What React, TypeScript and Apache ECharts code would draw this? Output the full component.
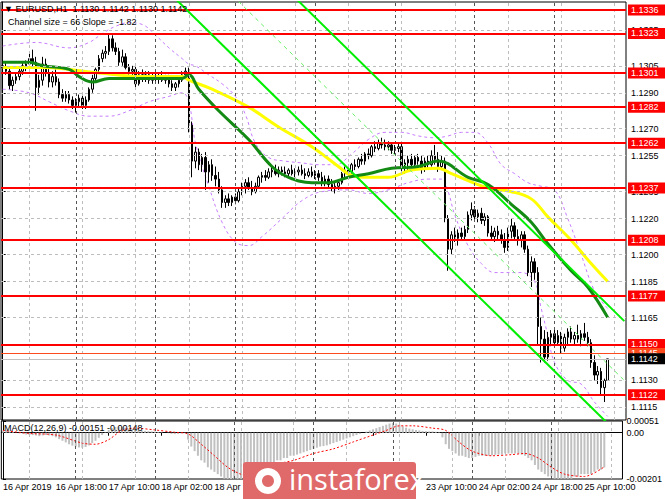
import React, { useEffect, useRef } from 'react';
import * as echarts from 'echarts';

// ---- Candles (EURUSD H1), bar index 0 = 16 Apr 2019 02:00 ----
const opens = [
1.1305,1.1304,1.1302,1.1294,1.1297,1.1299,1.1302,1.1305,1.1306,1.1309,
1.1307,1.1293,1.1297,1.1306,1.1301,1.1296,1.1299,1.1296,1.1289,1.1287,
1.1289,1.1286,1.1283,1.1285,1.1287,1.1283,1.1286,1.1292,1.1298,1.1303,
1.1309,1.1312,1.1313,1.1320,1.1315,1.1313,1.1307,1.1310,1.1304,1.1302,
1.1303,1.1295,1.1300,1.1298,1.1300,1.1297,1.1299,1.1298,1.1299,1.1297,
1.1298,1.1295,1.1293,1.1295,1.1297,1.1300,1.1302,1.1272,1.1252,1.1257,
1.1250,1.1254,1.1246,1.1250,1.1244,1.1242,1.1236,1.1229,1.1231,1.1229,
1.1232,1.1230,1.1235,1.1238,1.1240,1.1237,1.1235,1.1238,1.1243,1.1244,
1.1243,1.1246,1.1247,1.1245,1.1247,1.1246,1.1245,1.1247,1.1245,1.1246,
1.1247,1.1245,1.1244,1.1246,1.1244,1.1245,1.1243,1.1240,1.1242,1.1239,
1.1237,1.1238,1.1240,1.1245,1.1247,1.1246,1.1250,1.1249,1.1253,1.1252,
1.1256,1.1255,1.1260,1.1259,1.1262,1.1261,1.1260,1.1261,1.1258,1.1259,
1.1260,1.1249,1.1251,1.1253,1.1250,1.1254,1.1252,1.1248,1.1252,1.1250,
1.1255,1.1253,1.1249,1.1252,1.1220,1.1203,1.1211,1.1209,1.1212,1.1210,
1.1214,1.1222,1.1225,1.1221,1.1223,1.1219,1.1221,1.1212,1.1210,1.1213,
1.1211,1.1208,1.1204,1.1213,1.1216,1.1210,1.1208,1.1211,1.1203,1.1190,
1.1196,1.1190,1.1160,1.1153,1.1143,1.1154,1.1156,1.1151,1.1155,1.1148,
1.1154,1.1157,1.1153,1.1155,1.1153,1.1156,1.1154,1.1151,1.1140,1.1133,
1.1135,1.1126,1.1130];
const highs = [
1.1308,1.1307,1.1304,1.1299,1.1301,1.1304,1.1307,1.1308,1.1312,1.1314,
1.1310,1.1300,1.1310,1.1309,1.1305,1.1302,1.1303,1.1298,1.1292,1.1291,
1.1291,1.1288,1.1287,1.1289,1.1290,1.1288,1.1293,1.1300,1.1304,1.1311,
1.1314,1.1316,1.1323,1.1322,1.1318,1.1315,1.1314,1.1312,1.1306,1.1305,
1.1305,1.1302,1.1303,1.1302,1.1302,1.1301,1.1302,1.1301,1.1302,1.1300,
1.1300,1.1297,1.1296,1.1298,1.1302,1.1304,1.1304,1.1274,1.1260,1.1259,
1.1256,1.1257,1.1252,1.1253,1.1249,1.1246,1.1238,1.1233,1.1234,1.1233,
1.1234,1.1237,1.1240,1.1242,1.1243,1.1241,1.1240,1.1244,1.1246,1.1247,
1.1248,1.1249,1.1250,1.1249,1.1249,1.1249,1.1248,1.1250,1.1248,1.1249,
1.1250,1.1248,1.1248,1.1249,1.1247,1.1247,1.1246,1.1244,1.1244,1.1242,
1.1240,1.1242,1.1246,1.1249,1.1250,1.1251,1.1253,1.1254,1.1256,1.1257,
1.1259,1.1261,1.1263,1.1264,1.1265,1.1264,1.1263,1.1262,1.1261,1.1262,
1.1262,1.1253,1.1255,1.1256,1.1255,1.1256,1.1255,1.1254,1.1255,1.1258,
1.1261,1.1257,1.1255,1.1254,1.1222,1.1213,1.1215,1.1214,1.1215,1.1216,
1.1224,1.1229,1.1227,1.1225,1.1226,1.1223,1.1222,1.1216,1.1215,1.1216,
1.1214,1.1212,1.1215,1.1220,1.1218,1.1214,1.1213,1.1213,1.1205,1.1199,
1.1198,1.1193,1.1165,1.1158,1.1157,1.1158,1.1159,1.1158,1.1157,1.1156,
1.1159,1.1160,1.1157,1.1161,1.1158,1.1162,1.1157,1.1153,1.1144,1.1138,
1.1137,1.1131,1.1142];
const lows = [
1.1302,1.1300,1.1292,1.1291,1.1295,1.1297,1.1300,1.1302,1.1303,1.1304,
1.1280,1.1289,1.1294,1.1299,1.1293,1.1293,1.1294,1.1287,1.1285,1.1285,
1.1284,1.1281,1.1279,1.1282,1.1281,1.1281,1.1285,1.1290,1.1296,1.1301,
1.1307,1.1309,1.1311,1.1313,1.1311,1.1305,1.1305,1.1303,1.1300,1.1298,
1.1292,1.1294,1.1296,1.1296,1.1295,1.1295,1.1296,1.1295,1.1296,1.1295,
1.1293,1.1291,1.1291,1.1293,1.1296,1.1298,1.1268,1.1243,1.1248,1.1247,
1.1246,1.1236,1.1240,1.1241,1.1238,1.1234,1.1226,1.1226,1.1227,1.1227,
1.1228,1.1229,1.1233,1.1234,1.1236,1.1233,1.1234,1.1237,1.1240,1.1241,
1.1242,1.1243,1.1244,1.1243,1.1244,1.1243,1.1243,1.1244,1.1243,1.1244,
1.1244,1.1242,1.1243,1.1243,1.1242,1.1241,1.1238,1.1238,1.1237,1.1235,
1.1234,1.1236,1.1239,1.1243,1.1244,1.1245,1.1247,1.1248,1.1250,1.1250,
1.1253,1.1254,1.1257,1.1258,1.1259,1.1258,1.1258,1.1256,1.1256,1.1257,
1.1246,1.1245,1.1247,1.1249,1.1248,1.1250,1.1245,1.1246,1.1248,1.1249,
1.1250,1.1246,1.1247,1.1218,1.1191,1.1200,1.1207,1.1205,1.1208,1.1208,
1.1212,1.1219,1.1219,1.1218,1.1217,1.1216,1.1210,1.1208,1.1207,1.1208,
1.1206,1.1201,1.1202,1.1209,1.1208,1.1205,1.1204,1.1201,1.1188,1.1182,
1.1186,1.1150,1.1140,1.1140,1.1141,1.1150,1.1149,1.1150,1.1145,1.1146,
1.1150,1.1151,1.1150,1.1151,1.1149,1.1152,1.1149,1.1137,1.1130,1.1128,
1.1122,1.1118,1.1130];
const closes = [
1.1304,1.1302,1.1294,1.1297,1.1299,1.1302,1.1305,1.1306,1.1309,1.1307,
1.1293,1.1297,1.1306,1.1301,1.1296,1.1299,1.1296,1.1289,1.1287,1.1289,
1.1286,1.1283,1.1285,1.1287,1.1283,1.1286,1.1292,1.1298,1.1303,1.1309,
1.1312,1.1313,1.1320,1.1315,1.1313,1.1307,1.1310,1.1304,1.1302,1.1303,
1.1295,1.1300,1.1298,1.1300,1.1297,1.1299,1.1298,1.1299,1.1297,1.1298,
1.1295,1.1293,1.1295,1.1297,1.1300,1.1302,1.1272,1.1252,1.1257,1.1250,
1.1254,1.1246,1.1250,1.1244,1.1242,1.1236,1.1229,1.1231,1.1229,1.1232,
1.1230,1.1235,1.1238,1.1240,1.1237,1.1235,1.1238,1.1243,1.1244,1.1243,
1.1246,1.1247,1.1245,1.1247,1.1246,1.1245,1.1247,1.1245,1.1246,1.1247,
1.1245,1.1244,1.1246,1.1244,1.1245,1.1243,1.1240,1.1242,1.1239,1.1237,
1.1238,1.1240,1.1245,1.1247,1.1246,1.1250,1.1249,1.1253,1.1252,1.1256,
1.1255,1.1260,1.1259,1.1262,1.1261,1.1260,1.1261,1.1258,1.1259,1.1260,
1.1249,1.1251,1.1253,1.1250,1.1254,1.1252,1.1248,1.1252,1.1250,1.1255,
1.1253,1.1249,1.1252,1.1220,1.1203,1.1211,1.1209,1.1212,1.1210,1.1214,
1.1222,1.1225,1.1221,1.1223,1.1219,1.1221,1.1212,1.1210,1.1213,1.1211,
1.1208,1.1204,1.1213,1.1216,1.1210,1.1208,1.1211,1.1203,1.1190,1.1196,
1.1190,1.1160,1.1153,1.1143,1.1154,1.1156,1.1151,1.1155,1.1148,1.1154,
1.1157,1.1153,1.1155,1.1153,1.1156,1.1154,1.1151,1.1140,1.1133,1.1135,
1.1126,1.1130,1.1142];

// ---- Indicators: [bar index, value] ----
const yellowMA = [[0,1.1304],[12,1.1304],[20,1.1303],[29,1.1301],[44,1.1299],[54,1.1299],[56,1.1297],[63,1.1292],[74,1.1282],[83,1.1271],[93,1.1260],[101,1.1249],[105,1.1244],[110,1.1243],[116,1.1243],[123,1.1247],[131,1.1248],[135,1.1245],[146,1.1237],[153,1.1235],[159,1.1231],[164,1.1221],[171,1.1208],[177,1.1195],[182,1.1185]];
const greenMA = [[0,1.1307],[8,1.1307],[12,1.1305],[20,1.1303],[23,1.1299],[27,1.1296],[32,1.1298],[38,1.1298],[47,1.1298],[54,1.1298],[56,1.1300],[59,1.1292],[65,1.1280],[74,1.1264],[81,1.1249],[86,1.1243],[93,1.1240],[98,1.1240],[104,1.1243],[110,1.1245],[117,1.1248],[125,1.1249],[131,1.1252],[140,1.1243],[146,1.1239],[153,1.1228],[159,1.1218],[164,1.1206],[171,1.1191],[176,1.1182],[182,1.1165]];
const bandUpper = [[0,1.1316],[10,1.1318],[20,1.1315],[26,1.1318],[30,1.1323],[34,1.1327],[38,1.1329],[42,1.1328],[46,1.1322],[50,1.1315],[54,1.1309],[56,1.1306],[58,1.1305],[62,1.1300],[66,1.1295],[70,1.1288],[73,1.1278],[76,1.1262],[80,1.1254],[85,1.1252],[90,1.1251],[95,1.1250],[100,1.1250],[105,1.1256],[110,1.1264],[115,1.1268],[120,1.1268],[125,1.1266],[130,1.1265],[134,1.1266],[138,1.1268],[142,1.1268],[146,1.1262],[150,1.1250],[154,1.1245],[158,1.1240],[162,1.1238],[166,1.1236],[170,1.1220],[174,1.1200],[178,1.1180],[182,1.1170]];
const bandLower = [[0,1.1292],[8,1.1290],[14,1.1285],[20,1.1280],[26,1.1277],[32,1.1277],[38,1.1280],[44,1.1285],[50,1.1288],[54,1.1290],[56,1.1285],[58,1.1262],[62,1.1238],[66,1.1218],[70,1.1207],[74,1.1205],[78,1.1210],[84,1.1220],[90,1.1230],[96,1.1235],[104,1.1236],[110,1.1234],[116,1.1236],[122,1.1240],[128,1.1242],[132,1.1242],[134,1.1235],[136,1.1222],[140,1.1205],[144,1.1195],[148,1.1190],[156,1.1190],[160,1.1185],[162,1.1170],[164,1.1155],[166,1.1140],[170,1.1130],[174,1.1128],[178,1.1118],[182,1.1110]];
const channelLower = [[40,1.1364],[187,1.1097]];
const channelMiddle = [[40,1.1397],[187,1.1130]];
const channelUpper = [[40,1.1430],[187,1.1163]];
const channelSize = 66;
const channelSlope = -1.82;

const macdHist = [
0.0001,0.0001,0.00005,0.00003,0,-0.00003,-0.00005,
-0.00008,-0.0001,-0.0001,-0.00012,-0.00015,-0.00012,-0.0001,-0.00012,-0.00015,
-0.0002,-0.00028,-0.00035,-0.00042,-0.0005,-0.00056,-0.0006,-0.00064,-0.00065,-0.00062,-0.00055,
-0.00045,-0.00035,-0.00022,-0.0001,0.00002,0.00012,
0.0002,0.00025,0.00026,0.00025,0.00022,0.00018,0.00015,
0.00012,0.0001,0.0001,0.00008,0.00007,0.00006,0.00005,
0.00003,0.00002,0,-0.00002,-0.00005,-0.00006,-0.00005,-0.00003,-0.00002,
-0.0003,-0.0006,-0.0008,-0.001,-0.0012,-0.0013,-0.0015,-0.0016,-0.0017,-0.0018,-0.0019,-0.002,-0.0021,-0.0021,-0.0021,
-0.0021,-0.002,-0.002,-0.0019,-0.0018,-0.0018,-0.0017,-0.0016,-0.0015,-0.0014,-0.0014,-0.0013,-0.0012,-0.0012,-0.0011,-0.0011,-0.001,-0.001,
-0.00095,-0.0009,-0.00085,-0.0008,-0.00075,-0.0007,-0.00065,-0.0006,-0.00058,-0.00055,-0.0005,-0.00045,-0.0004,-0.00035,-0.0003,-0.00025,-0.0002,-0.00015,-0.0001,
-0.00005,0,0.00005,0.0001,0.00015,0.0002,0.00025,0.0003,0.00035,
0.0004,0.00042,0.0004,0.00035,0.00028,0.00022,
0.00018,0.00015,0.00012,0.0001,0.00008,0.00007,0.00006,0.00006,0.00004,0.00002,
-0.0002,-0.0005,-0.0007,-0.0008,-0.0009,-0.001,-0.001,-0.00105,
-0.0011,-0.0011,-0.00105,-0.001,-0.001,-0.001,-0.001,-0.00098,-0.00096,-0.00095,-0.00095,-0.0009,-0.0009,-0.0009,-0.0009,-0.0009,-0.00095,-0.001,
-0.0011,-0.0012,-0.0014,-0.0016,-0.0017,-0.0018,-0.0019,-0.0019,
-0.002,-0.002,-0.002,-0.002,-0.002,-0.002,-0.0019,-0.0019,-0.0018,-0.0018,-0.0018,-0.0018,-0.0017,-0.0016,-0.0016,-0.00151];
const macdSignal = [[0,0.0001],[8,-0.00003],[16,-0.0001],[24,-0.00045],[28,-0.0005],[32,-0.0003],[36,0.0001],[40,0.0002],[46,0.00012],[52,0.00002],[56,-0.00005],[60,-0.0005],[64,-0.001],[68,-0.0015],[72,-0.0018],[76,-0.0019],[82,-0.0014],[88,-0.0012],[94,-0.0009],[100,-0.0007],[106,-0.0004],[112,-0.0001],[116,0.0001],[120,0.0003],[124,0.0003],[130,0.0002],[134,0.0001],[138,-0.0004],[142,-0.0008],[148,-0.001],[154,-0.00095],[158,-0.0009],[162,-0.0011],[166,-0.0015],[170,-0.0018],[176,-0.0019],[182,-0.00148]];
const macdMainNow = -0.00151;
const macdSignalNow = -0.00148;

// ---- Axis ticks / levels ----
const timeLabels = ['16 Apr 2019','16 Apr 18:00','17 Apr 10:00','18 Apr 02:00','18 Apr 18:00','19 Apr 10:00','22 Apr 02:00','22 Apr 18:00','23 Apr 10:00','24 Apr 02:00','24 Apr 18:00','25 Apr 10:00'];
const labelsUnderLogo = [5, 6, 7];
const LABEL_STEP = 16;
const SLOTS = 188;
const priceTicks = [1.1325,1.1305,1.1290,1.1270,1.1255,1.1235,1.1220,1.1200,1.1185,1.1165,1.1145,1.1130,1.1115];
const priceTickLabels = [1.1325,1.1305,1.1290,1.1270,1.1255,1.1235,1.1220,1.1200,1.1185,1.1165,1.1130,1.1115];
const levels = [1.1336,1.1323,1.1301,1.1282,1.1262,1.1237,1.1208,1.1177,1.1150,1.1122];
const askPrice = 1.1145;
const bidPrice = 1.1142;
const gridBars = [8,24,40,56,72,88,104,120,136,152,168,184];
const daySeparators = [22,46,70,94,118,142,166];
const macdTicks = [0.00051,0,-0.00201];

const FONT = '"Liberation Sans", Arial, sans-serif';
const LOGO_RED = '#e06a6a';

function buildOption() {
  const slots = Array.from({ length: SLOTS }, (_, i) => String(i));
  const candleData = opens.map((o, i) => [o, closes[i], lows[i], highs[i]]);
  const isLabelBar = (i: number) => i % LABEL_STEP === 0 && i / LABEL_STEP < timeLabels.length && !labelsUnderLogo.includes(i / LABEL_STEP);
  const last = opens.length - 1;
  const dash = [3, 3];
  const levelLabel = (bg: string) => ({
    show: true, position: 'end', distance: 2, formatter: (p: any) => Number(p.value).toFixed(4),
    backgroundColor: bg, color: '#fff', padding: [1, 8, 0, 3], fontSize: 9, fontFamily: FONT, lineHeight: 10,
  });
  return {
    animation: false,
    backgroundColor: '#ffffff',
    grid: [
      { left: 1, top: 2, width: 625, height: 418, show: true, borderColor: '#000', borderWidth: 1, backgroundColor: '#fff' },
      { left: 1, top: 421, width: 625, height: 58, show: true, borderColor: '#000', borderWidth: 1, backgroundColor: '#fff' },
    ],
    xAxis: [
      { type: 'category', gridIndex: 0, data: slots, boundaryGap: true, axisLine: { show: false }, axisTick: { show: false }, axisLabel: { show: false }, splitLine: { show: false } },
      { type: 'value', gridIndex: 0, min: -0.5, max: SLOTS - 0.5, show: false },
      {
        type: 'category', gridIndex: 1, data: slots, boundaryGap: true,
        axisLine: { show: true, lineStyle: { color: '#000' } },
        axisTick: { show: true, interval: (i: number) => i % LABEL_STEP === 0 && i / LABEL_STEP < timeLabels.length, alignWithLabel: true, length: 3, lineStyle: { color: '#000' } },
        axisLabel: {
          show: true, interval: (i: number) => isLabelBar(i), align: 'left', margin: 3, fontSize: 9, fontFamily: FONT, color: '#000',
          formatter: (_v: string, i: number) => timeLabels[i / LABEL_STEP] ?? '',
        },
        splitLine: { show: false },
      },
      { type: 'value', gridIndex: 1, min: -0.5, max: SLOTS - 0.5, show: false },
    ],
    yAxis: [
      {
        type: 'value', gridIndex: 0, position: 'right', min: 1.1108, max: 1.13405, scale: true,
        axisLine: { show: true, lineStyle: { color: '#000' } },
        axisTick: { show: true, customValues: priceTicks, length: 3, lineStyle: { color: '#000' } },
        axisLabel: { show: true, customValues: priceTickLabels, formatter: (v: number) => v.toFixed(4), margin: 5, fontSize: 9, fontFamily: FONT, color: '#000' },
        splitLine: { show: false },
      },
      {
        type: 'value', gridIndex: 1, position: 'right', min: -0.00201, max: 0.00051,
        axisLine: { show: true, lineStyle: { color: '#000' } },
        axisTick: { show: true, customValues: macdTicks, length: 3, lineStyle: { color: '#000' } },
        axisLabel: { show: true, customValues: macdTicks, formatter: (v: number) => (v === 0 ? '0.00' : v.toFixed(5)), margin: 4, fontSize: 9, fontFamily: FONT, color: '#000' },
        splitLine: { show: false },
      },
    ],
    series: [
      {
        type: 'line', xAxisIndex: 1, yAxisIndex: 0, data: [], z: 1, silent: true,
        markLine: {
          silent: true, symbol: 'none', precision: 6, label: { show: false },
          data: [
            ...priceTicks.map((v) => ({ yAxis: v, lineStyle: { color: '#bdbdbd', width: 1, type: dash } })),
            ...gridBars.map((b) => ({ xAxis: b, lineStyle: { color: '#bdbdbd', width: 1, type: dash } })),
            ...daySeparators.map((b) => ({ xAxis: b, lineStyle: { color: '#555', width: 1, type: dash } })),
          ],
        },
      },
      {
        type: 'line', xAxisIndex: 3, yAxisIndex: 1, data: [], z: 1, silent: true,
        markLine: {
          silent: true, symbol: 'none', precision: 6, label: { show: false },
          data: [
            ...gridBars.map((b) => ({ xAxis: b, lineStyle: { color: '#bdbdbd', width: 1, type: dash } })),
            ...daySeparators.map((b) => ({ xAxis: b, lineStyle: { color: '#555', width: 1, type: dash } })),
          ],
        },
      },
      { type: 'line', xAxisIndex: 1, yAxisIndex: 0, data: bandUpper, smooth: 0.4, symbol: 'none', z: 2, lineStyle: { color: '#c77dff', width: 1, type: [3, 3] } },
      { type: 'line', xAxisIndex: 1, yAxisIndex: 0, data: bandLower, smooth: 0.4, symbol: 'none', z: 2, lineStyle: { color: '#c77dff', width: 1, type: [3, 3] } },
      {
        type: 'candlestick', xAxisIndex: 0, yAxisIndex: 0, data: candleData, barWidth: 2, z: 3,
        itemStyle: { color: '#ffffff', color0: '#000000', borderColor: '#000000', borderColor0: '#000000', borderWidth: 1 },
      },
      { type: 'line', xAxisIndex: 1, yAxisIndex: 0, data: yellowMA, smooth: 0.4, symbol: 'none', z: 4, lineStyle: { color: '#ffff00', width: 3 } },
      { type: 'line', xAxisIndex: 1, yAxisIndex: 0, data: greenMA, smooth: 0.4, symbol: 'none', z: 4, lineStyle: { color: '#138a13', width: 3 } },
      { type: 'line', xAxisIndex: 1, yAxisIndex: 0, data: channelLower, symbol: 'none', z: 5, lineStyle: { color: '#00ee00', width: 2 } },
      { type: 'line', xAxisIndex: 1, yAxisIndex: 0, data: channelUpper, symbol: 'none', z: 5, lineStyle: { color: '#00ee00', width: 2 } },
      { type: 'line', xAxisIndex: 1, yAxisIndex: 0, data: channelMiddle, symbol: 'none', z: 5, lineStyle: { color: '#66ee66', width: 1, type: [4, 4] } },
      {
        type: 'line', xAxisIndex: 1, yAxisIndex: 0, data: [], z: 6, silent: true,
        markLine: {
          silent: true, symbol: 'none', precision: 6,
          data: [
            ...levels.map((v) => ({ yAxis: v, lineStyle: { color: '#ff0000', width: 2, type: 'solid' }, label: levelLabel('#ff0000') })),
            { yAxis: askPrice, lineStyle: { color: '#ff4a1c', width: 1, type: 'solid' }, label: levelLabel('#ff4a1c') },
            { yAxis: bidPrice, lineStyle: { color: '#c0c0c0', width: 1, type: 'solid' }, label: levelLabel('#000000') },
          ],
        },
      },
      { type: 'bar', xAxisIndex: 2, yAxisIndex: 1, data: macdHist, barWidth: 2, itemStyle: { color: '#c0c0c0' }, z: 2 },
      { type: 'line', xAxisIndex: 3, yAxisIndex: 1, data: macdSignal, smooth: 0.3, symbol: 'none', z: 3, lineStyle: { color: '#ff0000', width: 1, type: [2, 2] } },
    ],
    graphic: [
      { type: 'text', left: 4, top: 4, z: 50, style: { text: `▼ EURUSD,H1  ${opens[last].toFixed(4)} ${highs[last].toFixed(4)} ${lows[last].toFixed(4)} ${closes[last].toFixed(4)}`, fill: '#000', font: `9px ${FONT}` } },
      { type: 'text', left: 8, top: 17, z: 50, style: { text: `Channel size = ${channelSize} Slope = ${channelSlope.toFixed(2)}`, fill: '#000', font: `9px ${FONT}` } },
      { type: 'text', left: 4, top: 423, z: 50, style: { text: `MACD(12,26,9) ${macdMainNow.toFixed(5)} ${macdSignalNow.toFixed(5)}`, fill: '#000', font: `9px ${FONT}` } },
      { type: 'rect', left: 243, top: 462, z: 100, zlevel: 1, shape: { width: 173, height: 40, r: 3 }, style: { fill: LOGO_RED } },
      { type: 'circle', left: 255, top: 468, z: 101, zlevel: 1, shape: { r: 13 }, style: { fill: '#ffffff' } },
      { type: 'circle', left: 262, top: 475, z: 102, zlevel: 1, shape: { r: 6 }, style: { fill: LOGO_RED } },
      { type: 'text', left: 289, top: 464, z: 102, zlevel: 1, style: { text: 'instaforex', fill: '#ffffff', font: '29px "Open Sans", sans-serif' } },
    ],
  };
}

export default function App() {
  const ref = useRef<HTMLDivElement>(null);
  useEffect(() => {
    if (!ref.current) return;
    const chart = echarts.init(ref.current, null, { renderer: 'svg' });
    chart.setOption(buildOption() as any);
    return () => chart.dispose();
  }, []);
  return <div ref={ref} style={{ position: 'fixed', left: 0, top: 0, width: 665, height: 499, background: '#fff' }} />;
}
